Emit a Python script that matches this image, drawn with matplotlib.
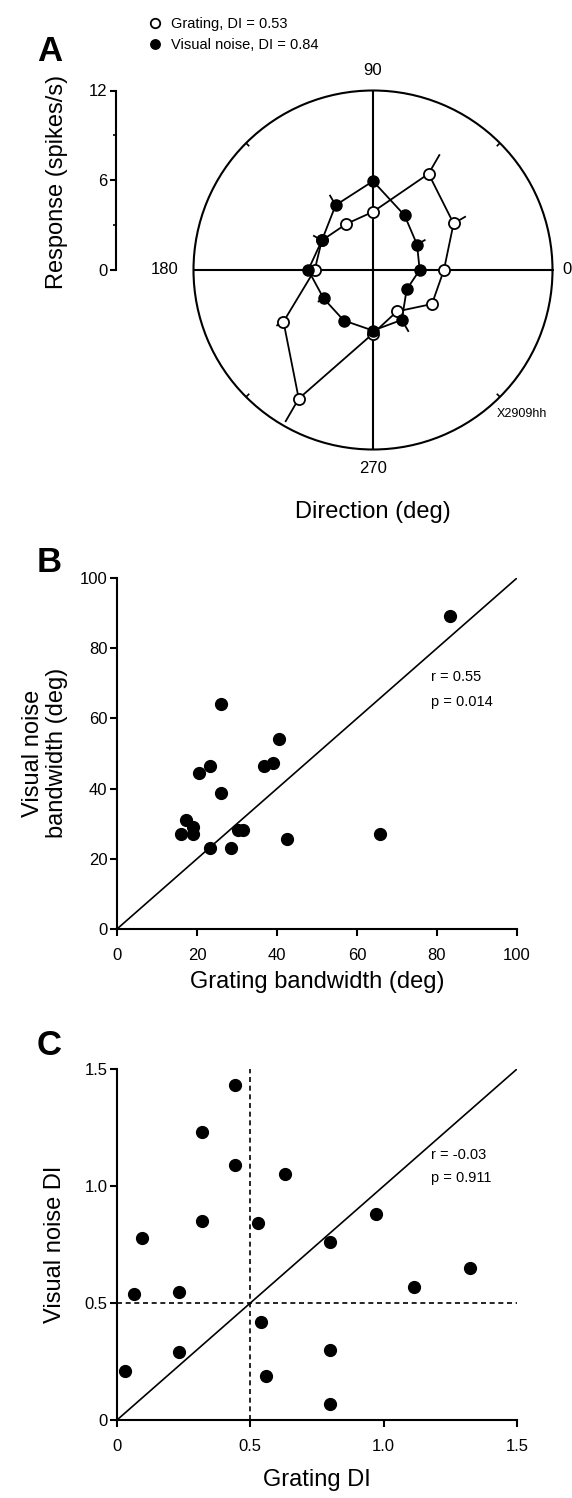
import numpy as np
import matplotlib
matplotlib.use('Agg')
import matplotlib.pyplot as plt

plt.rcParams['font.family'] = ['Liberation Sans', 'DejaVu Sans']

# ---------------- data ----------------
directions = [0, 30, 60, 90, 120, 150, 180, 210, 240, 270, 300, 330]
grating_resp = [4.74, 6.22, 7.43, 3.89, 3.56, 3.95, 3.90, 6.91, 9.93, 4.25, 3.20, 4.55]
grating_err = [0.30, 0.95, 1.50, 0.30, 0.20, 0.30, 0.30, 0.55, 1.80, 0.30, 0.20, 0.20]
noise_resp = [3.12, 3.40, 4.22, 5.94, 5.00, 3.95, 4.33, 3.81, 3.90, 4.05, 3.85, 2.60]
noise_err = [0.30, 0.65, 0.30, 0.30, 0.80, 0.67, 0.30, 0.45, 0.30, 0.30, 0.92, 0.30]
legend_labels = ['Grating, DI = 0.53', 'Visual noise, DI = 0.84']
resp_ticks = [0, 6, 12]
resp_minor = [3, 9]
angle_labels = ['0', '90', '180', '270']
cell_id = 'X2909hh'

bw_grating = [83.2, 26.0, 40.6, 23.2, 20.4, 36.8, 38.9, 26.0, 17.2, 19.1, 16.0,
              18.9, 30.3, 31.6, 42.5, 65.7, 23.2, 28.5]
bw_noise = [89.1, 64.0, 54.2, 46.4, 44.5, 46.4, 47.4, 38.7, 31.1, 29.1, 27.2,
            27.2, 28.1, 28.1, 25.5, 27.2, 23.2, 23.2]
bw_ticks = [0, 20, 40, 60, 80, 100]
bw_stats = ['r = 0.55', 'p = 0.014']

di_grating = [0.441, 0.631, 0.319, 0.530, 0.092, 0.970, 0.800, 1.322, 1.112,
              0.062, 0.231, 0.540, 0.800, 0.231, 0.030, 0.560, 0.800, 0.441, 0.319]
di_noise = [1.090, 1.050, 0.849, 0.840, 0.779, 0.882, 0.761, 0.650, 0.570,
            0.540, 0.548, 0.419, 0.299, 0.289, 0.209, 0.188, 0.068, 1.432, 1.229]
di_ticks = [0, 0.5, 1.0, 1.5]
di_ticklabels = ['0', '0.5', '1.0', '1.5']
di_stats = ['r = -0.03', 'p = 0.911']

# ---------------- figure ----------------
W, H = 572, 1498
fig = plt.figure(figsize=(W / 100, H / 100), dpi=100)


def box(x0, y0, x1, y1):
    return [x0 / W, 1 - y1 / H, (x1 - x0) / W, (y1 - y0) / H]


TICK = 12
LABEL = 17
STAT = 10.5

# ---------- Panel A: polar ----------
axp = fig.add_axes(box(193.5, 90.5, 552.5, 449.5), projection='polar')
axp.set_rlim(0, 12)
axp.set_xticks([])
axp.set_yticks([])
axp.grid(False)
axp.spines['polar'].set_linewidth(1.5)

th = np.deg2rad(directions)
thc = np.append(th, th[0])
gr = np.array(grating_resp)
nr = np.array(noise_resp)

# cross-hair
axp.plot([0, np.pi], [12, 12], color='k', lw=1.5, zorder=1)
axp.plot([np.pi / 2, 3 * np.pi / 2], [12, 12], color='k', lw=1.5, zorder=1)
axp.vlines(np.deg2rad([45, 135, 225, 315]), 11.7, 12, color='k', lw=1.2)

axp.plot(thc, np.append(gr, gr[0]), color='k', lw=1.3, zorder=3)
axp.plot(thc, np.append(nr, nr[0]), color='k', lw=1.3, zorder=3)
axp.vlines(th, gr, gr + np.array(grating_err), color='k', lw=1.3, zorder=2)
axp.vlines(th, nr, nr + np.array(noise_err), color='k', lw=1.3, zorder=2)
hg, = axp.plot(th, gr, 'o', ms=8, mfc='white', mec='k', mew=1.3, zorder=5,
               label=legend_labels[0])
hn, = axp.plot(th, nr, 'o', ms=8, mfc='k', mec='k', zorder=6,
               label=legend_labels[1])

for ang, lab, rr in zip([0, 90, 180, 270], angle_labels, [12.97, 13.35, 13.9, 13.24]):
    axp.text(np.deg2rad(ang), rr, lab, ha='center', va='center', fontsize=TICK)

fig.text(522 / W, 1 - 414 / H, cell_id, ha='center', va='center', fontsize=9)

# left response axis
axl = fig.add_axes(box(116, 90.5, 117, 270))
axl.patch.set_visible(False)
axl.set_ylim(0, 12)
for s in ['top', 'right', 'bottom']:
    axl.spines[s].set_visible(False)
axl.spines['left'].set_linewidth(1.5)
axl.set_xticks([])
axl.set_yticks(resp_ticks)
axl.set_yticks(resp_minor, minor=True)
axl.tick_params(axis='y', which='major', length=4, width=1.5, pad=2, labelsize=TICK)
axl.tick_params(axis='y', which='minor', length=2, width=1.2)

fig.text(57 / W, 1 - 182 / H, 'Response (spikes/s)', rotation=90,
         ha='center', va='center', fontsize=LABEL)
fig.text(373 / W, 1 - 512 / H, 'Direction (deg)', ha='center', va='center',
         fontsize=LABEL)

fig.legend(handles=[hg, hn], loc='upper left', bbox_to_anchor=(149 / W, 1 - 17 / H),
           frameon=False, fontsize=10.5, handlelength=0.8, handletextpad=0.7,
           borderpad=0, borderaxespad=0, labelspacing=0.5, markerscale=0.85)


def style_axes(ax):
    for s in ['top', 'right']:
        ax.spines[s].set_visible(False)
    for s in ['left', 'bottom']:
        ax.spines[s].set_linewidth(1.5)
    ax.tick_params(axis='both', direction='out', length=5, width=1.5, labelsize=TICK)
    ax.tick_params(axis='x', pad=9)
    ax.tick_params(axis='y', pad=2)


# ---------- Panel B ----------
axb = fig.add_axes(box(117, 578, 517, 929))
axb.plot([0, 100], [0, 100], color='k', lw=1.2)
axb.plot(bw_grating, bw_noise, 'o', ms=8.5, color='k', clip_on=False, zorder=4)
axb.set_xlim(0, 100)
axb.set_ylim(0, 100)
axb.set_xticks(bw_ticks)
axb.set_yticks(bw_ticks)
style_axes(axb)
axb.text(0.785, 0.718, bw_stats[0], transform=axb.transAxes, va='center', fontsize=STAT)
axb.text(0.785, 0.647, bw_stats[1], transform=axb.transAxes, va='center', fontsize=STAT)
fig.text(317 / W, 1 - 982 / H, 'Grating bandwidth (deg)', ha='center', va='center',
         fontsize=LABEL)
fig.text(45 / W, 1 - 753 / H, 'Visual noise\nbandwidth (deg)', rotation=90,
         ha='center', va='center', multialignment='center', fontsize=LABEL,
         linespacing=1.1)

# ---------- Panel C ----------
axc = fig.add_axes(box(117, 1069, 517, 1420))
axc.plot([0, 1.5], [0, 1.5], color='k', lw=1.2)
axc.plot([0.5, 0.5], [0, 1.5], color='k', lw=1.2, ls=(0, (3, 2.2)))
axc.plot([0, 1.5], [0.5, 0.5], color='k', lw=1.2, ls=(0, (3, 2.2)))
axc.plot(di_grating, di_noise, 'o', ms=8.5, color='k', clip_on=False, zorder=4)
axc.set_xlim(0, 1.5)
axc.set_ylim(0, 1.5)
axc.set_xticks(di_ticks)
axc.set_xticklabels(di_ticklabels)
axc.set_yticks(di_ticks)
axc.set_yticklabels(di_ticklabels)
style_axes(axc)
axc.text(0.785, 0.755, di_stats[0], transform=axc.transAxes, va='center', fontsize=STAT)
axc.text(0.785, 0.690, di_stats[1], transform=axc.transAxes, va='center', fontsize=STAT)
fig.text(317 / W, 1 - 1480 / H, 'Grating DI', ha='center', va='center', fontsize=LABEL)
fig.text(55 / W, 1 - 1244 / H, 'Visual noise DI', rotation=90, ha='center',
         va='center', fontsize=LABEL)

# panel letters
for lab, yb in zip(['A', 'B', 'C'], [61, 572, 1055]):
    fig.text(37 / W, 1 - yb / H, lab, fontsize=25, fontweight='bold', va='baseline')

fig.savefig('out.png', dpi=100)
